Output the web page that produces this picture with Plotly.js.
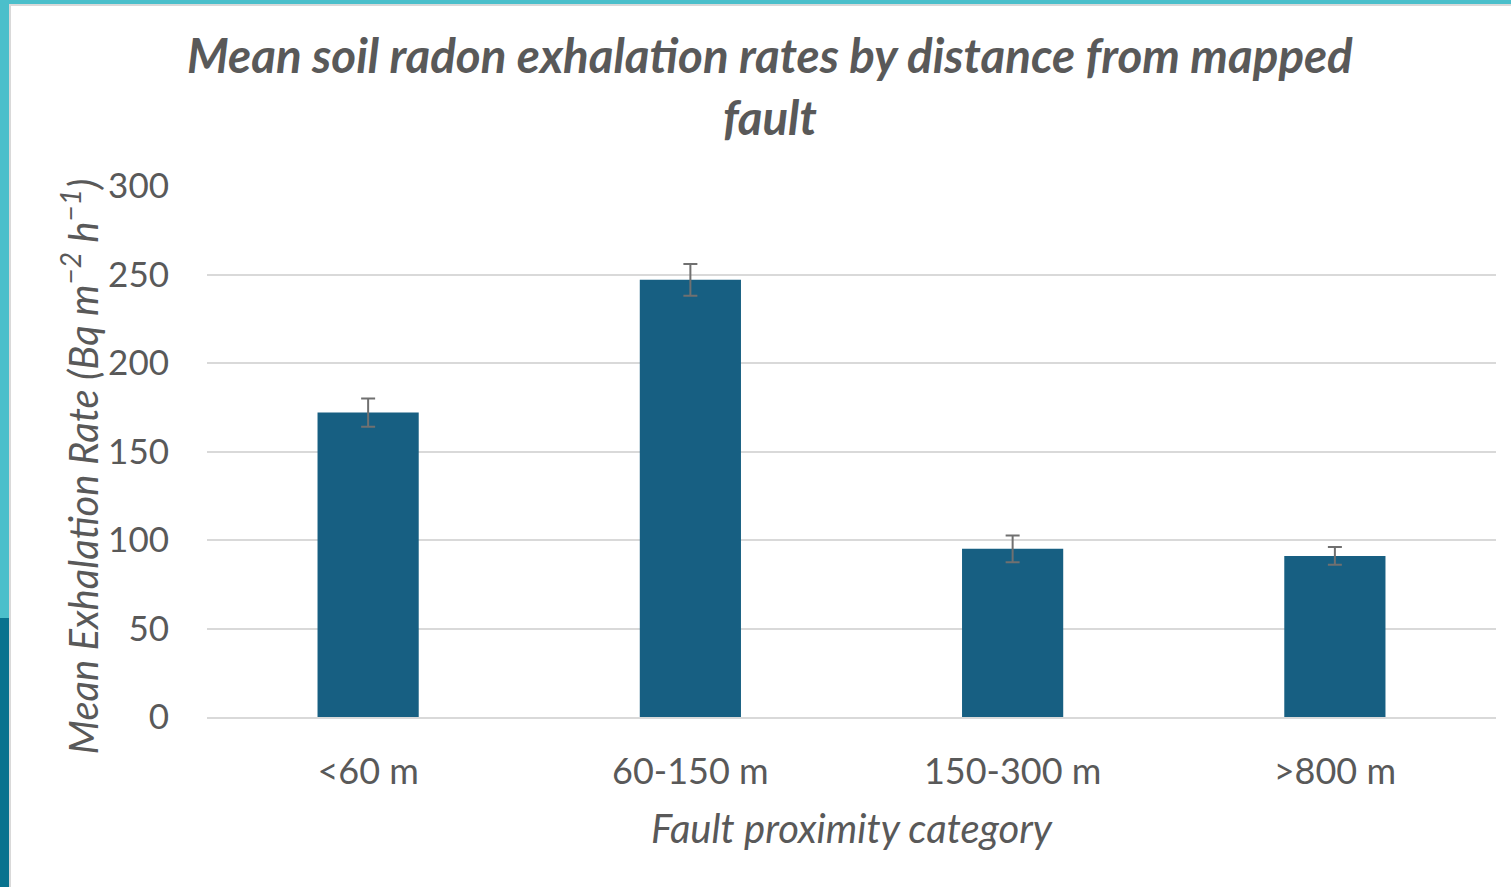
<!DOCTYPE html>
<html>
<head>
<meta charset="utf-8">
<script src="https://cdn.plot.ly/plotly-3.0.1.min.js"></script>
<style>
html,body{margin:0;padding:0;background:#fff;overflow:hidden;}
#chart{position:absolute;left:0;top:0;width:1511px;height:887px;}
.deco{position:absolute;}
</style>
</head>
<body>
<div id="chart"></div>
<div class="deco" style="left:0;top:0;width:1511px;height:4px;background:#4BBFCB;"></div>
<div class="deco" style="left:9px;top:4px;width:1502px;height:2px;background:#D9D9D9;"></div>
<div class="deco" style="left:0;top:0;width:9px;height:618px;background:#4BBFCB;"></div>
<div class="deco" style="left:0;top:618px;width:9px;height:269px;background:#08728E;"></div>
<div class="deco" style="left:9px;top:6px;width:2px;height:881px;background:#D9D9D9;"></div>
<script>
const categories = ["<60 m", "60-150 m", "150-300 m", ">800 m"];
const meanRates = [172, 247, 95, 91];
const errors = [8, 9, 7.5, 5];
const yTicks = [0, 50, 100, 150, 200, 250, 300];

const font = "Lato, 'Open Sans', sans-serif";
const grey = "#595959";

const trace = {
  type: "bar",
  x: categories,
  y: meanRates,
  marker: {color: "#175F82"},
  error_y: {type: "data", array: errors, visible: true, color: "#707070", thickness: 2, width: 7},
  hoverinfo: "none"
};

const layout = {
  width: 1511, height: 887,
  margin: {l: 207, r: 15, t: 186, b: 170},
  paper_bgcolor: "#ffffff", plot_bgcolor: "#ffffff",
  bargap: 0.686,
  showlegend: false,
  xaxis: {
    type: "category",
    tickfont: {family: font, size: 36, color: grey},
    ticks: "", showgrid: false, showline: true, linecolor: "#D9D9D9", linewidth: 2,
    ticklabelstandoff: 22,
    title: {text: "<i>Fault proximity category</i>", font: {family: font, size: 40, color: grey}, standoff: 24}
  },
  yaxis: {
    range: [0, 300],
    tickvals: yTicks,
    tickfont: {family: font, size: 35, color: grey},
    ticks: "", showline: false, zeroline: false,
    gridcolor: "#D9D9D9", gridwidth: 2,
    ticklabelstandoff: 37
  },
  annotations: [{
    text: "<b><i>Mean soil radon exhalation rates by distance from mapped<br>fault</i></b>",
    font: {family: font, size: 47.5, color: grey},
    showarrow: false, align: "center",
    xref: "paper", x: (769.5 - 207) / (1496 - 207), xanchor: "center",
    yref: "paper", y: 1, yanchor: "middle", yshift: 101
  }, {
    text: "<i>Mean Exhalation Rate (Bq m<sup>−2</sup> h<sup>−1</sup>)</i>",
    font: {family: font, size: 40, color: grey},
    textangle: -90, showarrow: false,
    xref: "paper", x: 0, xanchor: "center", xshift: -127,
    yref: "paper", y: 0.5, yanchor: "middle", yshift: -15
  }]
};

Plotly.newPlot("chart", [trace], layout, {displayModeBar: false, staticPlot: true});
</script>
</body>
</html>
